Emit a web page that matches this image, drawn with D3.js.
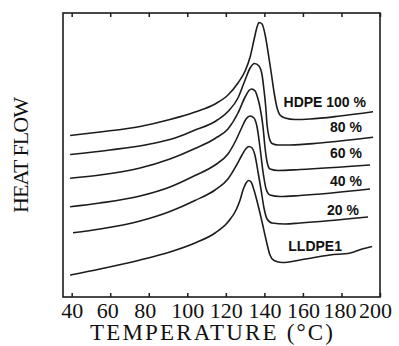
<!DOCTYPE html>
<html>
<head>
<meta charset="utf-8">
<script src="https://cdn.jsdelivr.net/npm/d3@7"></script>
<style>
  body { margin: 0; background: #fff; }
  #main { width: 399px; height: 346px; }
</style>
</head>
<body>
<div id="main"></div>
<script>
// temperature (°C), heat flow (arbitrary units)
let hdpe100 = [[39.2,16.15],[54.7,16.5],[75.5,17.05],[91.0,17.75],[104.0,18.5],[114.4,19.3],[121.1,20.2],[126.3,21.4],[130.0,22.6],[132.6,24.0],[134.6,25.7],[136.2,27.0],[137.2,27.45],[138.8,27.3],[140.3,26.3],[141.9,24.5],[143.5,22.5],[145.0,20.5],[146.6,18.9],[148.1,18.2],[150.7,17.9],[155.9,17.75],[163.7,17.8],[179.3,18.1],[196.4,18.53]]
let blend80 = [[39.2,14.25],[59.9,14.7],[80.7,15.3],[93.6,15.9],[104.0,16.7],[114.4,17.55],[121.1,18.55],[126.3,19.9],[130.0,21.7],[132.6,22.9],[134.9,23.35],[137.2,23.1],[138.8,22.2],[139.8,20.7],[140.7,19.03],[141.4,17.2],[142.4,16.0],[144.0,15.35],[147.1,15.2],[153.3,15.2],[168.9,15.4],[196.4,15.97]]
let blend60 = [[39.2,11.87],[54.7,12.2],[75.5,12.9],[91.0,13.8],[104.0,14.85],[114.4,15.85],[121.1,16.8],[126.3,18.4],[130.0,20.0],[132.0,20.65],[133.4,20.8],[135.2,20.6],[136.7,19.8],[137.7,19.0],[139.3,17.0],[140.3,15.0],[141.4,13.5],[142.9,12.8],[147.1,12.65],[158.5,12.75],[194.8,13.2]]
let blend40 = [[39.2,9.03],[54.7,9.4],[75.5,10.1],[91.0,11.0],[104.0,12.15],[114.4,13.2],[121.1,14.3],[125.3,15.7],[128.4,17.0],[130.5,17.8],[132.6,18.1],[134.6,17.9],[136.2,17.0],[137.7,15.0],[139.3,12.5],[140.9,10.8],[142.9,10.2],[148.1,10.05],[158.5,10.15],[194.8,10.8]]
let blend20 = [[40.7,6.43],[54.7,6.8],[75.5,7.6],[91.0,8.55],[104.0,9.65],[114.4,10.7],[121.1,11.8],[125.3,13.1],[128.4,14.2],[130.5,14.85],[132.0,15.05],[133.6,14.9],[135.2,14.1],[136.7,12.5],[138.3,10.7],[139.8,8.9],[141.4,7.8],[144.0,7.4],[150.7,7.3],[158.5,7.4],[193.8,8.0]]
let lldpe1 = [[39.2,2.2],[54.7,2.8],[75.5,3.7],[91.0,4.5],[104.0,5.4],[114.4,6.4],[121.1,7.5],[125.3,8.7],[127.4,9.7],[128.9,10.7],[130.5,11.4],[131.8,11.65],[133.1,11.5],[134.6,10.7],[136.7,9.2],[138.8,7.5],[140.9,5.7],[142.9,4.2],[145.0,3.65],[149.2,3.45],[158.5,3.7],[174.1,4.2],[184.5,4.4],[190.7,4.8],[195.9,5.05]]

let seriesNames = ["HDPE 100 %", "80 %", "60 %", "40 %", "20 %", "LLDPE1"]
let xTicks = [40, 60, 80, 100, 120, 140, 160, 180, 200]

let allSeries = [hdpe100, blend80, blend60, blend40, blend20, lldpe1]

// label placement (end of text, baseline), px
let labelAt = [[366, 107], [362, 131.5], [362, 158], [362, 185.5], [359, 215], [342, 251]]
// the scanned tick labels sit a little off their ticks
let tickNudge = [0, -3, -4, 0, 0, 0, 0, -2, -5]

let width = 399
let height = 346

let svg = d3.select('#main')
            .append('svg')
            .attr('width', width)
            .attr('height', height)

let xScale = d3.scaleLinear().domain([35.5, 200]).range([63, 380])
let yScale = d3.scaleLinear().domain([0, 28.4]).range([297, 13])

let ink = '#1c1c1c'

// frame
svg.append('rect')
    .attr('x', 63)
    .attr('y', 13)
    .attr('width', 380 - 63)
    .attr('height', 297 - 13)
    .attr('fill', 'none')
    .attr('stroke', ink)
    .attr('stroke-width', 1.6)

let xAxis = d3.axisBottom(xScale)
            .tickValues(xTicks)
            .tickSizeInner(-4)
            .tickSizeOuter(0)
            .tickPadding(5)
            .tickFormat(d3.format('d'))

let gx = svg.append('g')
    .attr('id', 'x-axis')
    .attr('transform', 'translate(0, 297)')
    .call(xAxis)

gx.select('.domain').remove()
gx.selectAll('line').attr('stroke', ink).attr('stroke-width', 1.5)
gx.selectAll('text')
    .attr('fill', '#111')
    .attr('dx', (d, i) => tickNudge[i])
    .style('font-family', '"Liberation Serif", "Times New Roman", serif')
    .style('font-size', '22px')

let topAxis = d3.axisTop(xScale)
            .tickValues(xTicks)
            .tickSizeInner(-4)
            .tickSizeOuter(0)
            .tickFormat('')

let gt = svg.append('g')
    .attr('transform', 'translate(0, 13)')
    .call(topAxis)

gt.select('.domain').remove()
gt.selectAll('line').attr('stroke', ink).attr('stroke-width', 1.5)

let line = d3.line()
    .x((d) => xScale(d[0]))
    .y((d) => yScale(d[1]))
    .curve(d3.curveMonotoneX)

svg.selectAll('.trace')
    .data(allSeries)
    .enter()
    .append('path')
    .classed('trace', true)
    .attr('d', line)
    .attr('fill', 'none')
    .attr('stroke', ink)
    .attr('stroke-width', 1.6)
    .attr('stroke-linejoin', 'round')

svg.selectAll('.curve-label')
    .data(seriesNames)
    .enter()
    .append('text')
    .classed('curve-label', true)
    .attr('x', (d, i) => labelAt[i][0])
    .attr('y', (d, i) => labelAt[i][1])
    .attr('text-anchor', 'end')
    .style('font-family', '"Liberation Sans", Arial, sans-serif')
    .style('font-weight', 'bold')
    .style('font-size', '14px')
    .attr('fill', '#111')
    .text((d) => d)

svg.append('text')
    .attr('x', 211.5)
    .attr('y', 340)
    .attr('text-anchor', 'middle')
    .attr('textLength', 243)
    .attr('lengthAdjust', 'spacing')
    .style('font-family', '"Liberation Serif", "Times New Roman", serif')
    .style('font-size', '23px')
    .attr('fill', '#111')
    .text('TEMPERATURE (°C)')

svg.append('text')
    .attr('transform', 'translate(28, 155) rotate(-90)')
    .attr('text-anchor', 'middle')
    .attr('textLength', 116)
    .attr('lengthAdjust', 'spacing')
    .style('font-family', '"Liberation Serif", "Times New Roman", serif')
    .style('font-size', '22px')
    .attr('fill', '#111')
    .text('HEAT FLOW')
</script>
</body>
</html>
